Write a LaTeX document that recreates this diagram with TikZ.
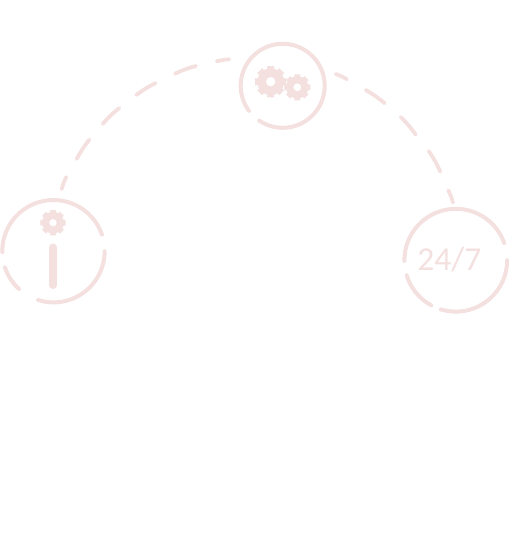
\documentclass[tikz,border=0pt]{standalone}
\usepackage{fontspec}
\setmainfont{Carlito}
\definecolor{rose}{HTML}{F3E0DF}
\tikzset{
  ringline/.style={draw=rose,line width=4pt,line cap=round,fill=none},
  dashline/.style={draw=rose,line width=3.8pt,line cap=round,bend left=5},
  barline/.style={draw=rose,line width=8pt,line cap=round},
  gearfill/.style={fill=rose,even odd rule,draw=none},
  clocktext/.style={text=rose,font=\fontsize{33.5}{34}\selectfont,inner sep=0pt}
}
% centre x, centre y, radius, start, end
\newcommand{\ringarc}[5]{\draw[ringline] ([shift={(#4:#3)}]#1,#2) arc[start angle=#4,end angle=#5,radius=#3];}
% centre x, centre y, outer R, hole r
\newcommand{\cog}[4]{%
  \pgfmathsetmacro{\rootr}{#3*0.84}%
  \fill[gearfill,shift={(#1,#2)}]
    (-14:\rootr)
    foreach \a in {0,45,...,315} {
      -- ({\a-14}:\rootr) -- ({\a-13}:#3) -- ({\a+13}:#3) -- ({\a+14}:\rootr)
      -- ({\a+31}:\rootr)
    } -- cycle
    (0,0) circle[radius=#4];}
\begin{document}
\begin{tikzpicture}[x=1pt,y=1pt]
\useasboundingbox (0,0) rectangle (509,-557);
% left ring
\ringarc{53.5}{-251.2}{51.2}{18.9}{181}
\ringarc{53.5}{-251.2}{51.2}{198.4}{227.6}
\ringarc{53.5}{-251.2}{51.2}{252.5}{360}
% middle ring
\ringarc{282.7}{-85.8}{42}{236}{576.6}
% right ring
\ringarc{455.8}{-260.2}{51.4}{19.6}{180.8}
\ringarc{455.8}{-260.2}{51.4}{197}{241.4}
\ringarc{455.8}{-260.2}{51.4}{253}{360}
% dashes of the big arc
\draw[dashline] (61.7,-189) to (66.3,-177);
\draw[dashline] (76.7,-159) to (89.3,-139.7);
\draw[dashline] (102.7,-124) to (119.3,-108);
\draw[dashline] (136.3,-95) to (155.7,-83);
\draw[dashline] (175,-73.7) to (196,-66);
\draw[dashline] (216.7,-61.3) to (229.3,-59.3);
\draw[dashline] (335.7,-74) to (347,-79.3);
\draw[dashline] (365.7,-90) to (384.7,-103.3);
\draw[dashline] (400.7,-117) to (415.7,-134.7);
\draw[dashline] (428.7,-151) to (440.3,-171.7);
\draw[dashline] (448.3,-190.3) to (453,-202.7);
% icons
\cog{53}{-222.7}{13}{3.8}
\draw[barline] (53.3,-247.5) -- (53.3,-285);
\cog{270.7}{-81.7}{16}{4.8}
\cog{297.3}{-87.3}{13.3}{4}
\node[clocktext] (clock) at (449.3,-259.5) {24/7};
\end{tikzpicture}
\end{document}
